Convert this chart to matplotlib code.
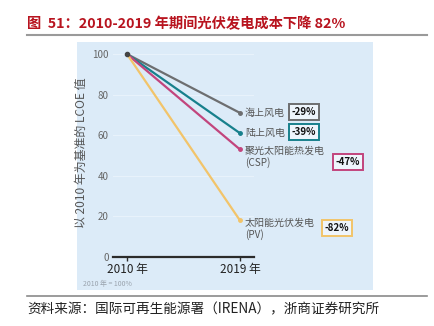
import matplotlib.pyplot as plt
from matplotlib.patches import Rectangle
from matplotlib.lines import Line2D

plt.rcParams['font.family'] = ['Noto Sans CJK SC', 'DejaVu Sans']

years = [2010, 2019]
series_names = ['海上风电', '陆上风电', '聚光太阳能热发电\n(CSP)', '太阳能光伏发电\n(PV)']
values_2019 = [71, 61, 53, 18]
changes = ['-29%', '-39%', '-47%', '-82%']
colors = ['#6d6e70', '#17808c', '#c2457d', '#f2c46a']
y_ticks = [0, 20, 40, 60, 80, 100]
x_labels = ['2010 年', '2019 年']

W, H = 435, 326
fig = plt.figure(figsize=(W / 100, H / 100), dpi=100)


def px(x0, y0, x1, y1):
    # pixel box (top-left origin) -> figure fraction [l, b, w, h]
    return [x0 / W, 1 - y1 / H, (x1 - x0) / W, (y1 - y0) / H]


# title and rules
fig.text(27 / W, 1 - 24 / H, '图  51：2010-2019 年期间光伏发电成本下降 82%',
         color='#b8141f', fontsize=10.3, fontweight='bold', va='center', ha='left')
fig.add_artist(Line2D([27 / W, 427 / W], [1 - 35 / H] * 2, color='#9a9a9a', lw=1.5))
fig.add_artist(Line2D([27 / W, 427 / W], [1 - 296 / H] * 2, color='#8a8a8a', lw=1.2))
fig.text(27 / W, 1 - 309 / H, '资料来源：国际可再生能源署（IRENA），浙商证券研究所',
         color='#222222', fontsize=9.8, va='center', ha='left')

# light blue panel
l, b, w, h = px(77, 42, 373, 290)
fig.add_artist(Rectangle((l, b), w, h, transform=fig.transFigure,
                         facecolor='#dcebf8', edgecolor='none', zorder=0))

ax = fig.add_axes(px(113, 48, 254, 257))
ax.set_facecolor('none')
ax.set_xlim(2010 - 14 * 9 / 113, 2019 + 14 * 9 / 113)
ax.set_ylim(0, 103)
for s in ['top', 'right', 'left']:
    ax.spines[s].set_visible(False)
ax.spines['bottom'].set_color('#2b2b2b')
ax.spines['bottom'].set_linewidth(1.6)
ax.set_yticks(y_ticks)
ax.set_yticklabels([str(v) for v in y_ticks], color='#666666', fontsize=7)
ax.tick_params(axis='y', length=0, pad=3)
ax.set_xticks(years)
ax.set_xticklabels(x_labels, color='#222222', fontsize=8.5, fontweight='medium')
ax.tick_params(axis='x', length=3, width=1, color='#2b2b2b', pad=1)
for v in y_ticks[1:]:
    ax.axhline(v, color='#e8f2fb', lw=0.8, zorder=0)

for v, c in zip(values_2019, colors):
    ax.plot(years, [100, v], color=c, lw=1.6, zorder=3)
    ax.plot([2019], [v], marker='o', ms=2.5, color=c, zorder=4)
ax.plot([2010], [100], marker='o', ms=3, color='#444444', zorder=5)

ax.set_ylabel('以 2010 年为基准的 LCOE 值', color='#555555', fontsize=8.6, labelpad=3)

# series labels and change boxes (pixel positions)
label_pos = [(245, 113), (245, 133), (245, 157), (245, 229)]
box_pos = [(304, 112), (304, 132), (348, 162), (337, 228)]
for name, ch, c, (lx, ly), (bx, by) in zip(series_names, changes, colors, label_pos, box_pos):
    fig.text(lx / W, 1 - ly / H, name, color='#555555', fontsize=7.2,
             va='center', ha='left', linespacing=1.1)
    fig.text(bx / W, 1 - by / H, ch, color='#111111', fontsize=7, fontweight='bold',
             va='center', ha='center',
             bbox=dict(boxstyle='square,pad=0.3', facecolor='#eef5fc', edgecolor=c, lw=1.4))

fig.text(83 / W, 1 - 284 / H, '2010 年 = 100%', color='#9aa3ad', fontsize=5, va='center', ha='left')

fig.savefig('out.png', dpi=100)
